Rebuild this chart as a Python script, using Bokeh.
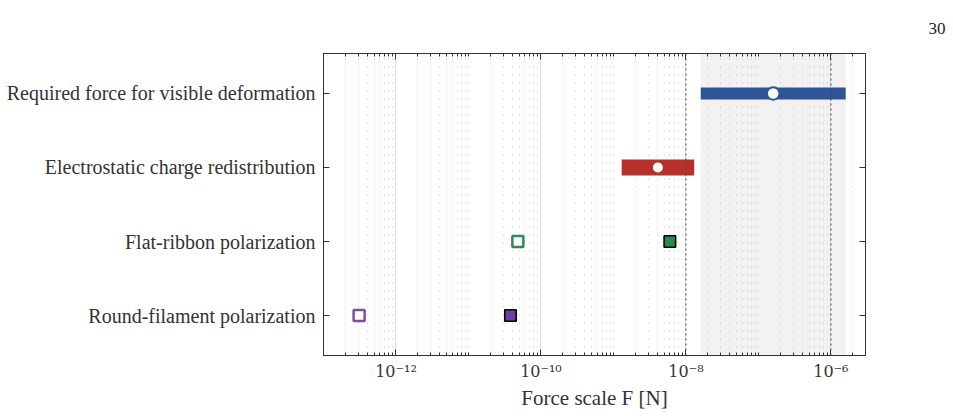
from bokeh.plotting import figure
from bokeh.models import (FixedTicker, LogAxis, LinearAxis, Span, BoxAnnotation,
                          Range1d, ColumnDataSource)
from bokeh.embed import file_html
from bokeh.resources import INLINE

# --- data -------------------------------------------------------------------
categories = [
    "Round-filament polarization",
    "Flat-ribbon polarization",
    "Electrostatic charge redistribution",
    "Required force for visible deformation",
]

# force ranges (N) for the two range-type estimates
range_rows = [2, 3]
range_lo = [1.3e-9, 1.6e-8]
range_hi = [1.3e-8, 1.6e-6]
range_mid = [4.1e-9, 1.6e-7]

# polarization estimates: open and filled markers
pol_rows = [0, 1]
pol_open = [3.1e-13, 4.8e-11]
pol_filled = [3.8e-11, 6.0e-9]

x_ticks = [1e-12, 1e-10, 1e-8, 1e-6]
x_tick_labels = ["10⁻¹²", "10⁻¹⁰", "10⁻⁸", "10⁻⁶"]
ref_lines = [1e-8, 1e-6]

x_label = "Force scale F [N]"
page_number = "30"

# --- styling ----------------------------------------------------------------
FONT = "Liberation Serif"
TXT = "#333333"
SPINE = "#333333"
BLUE = "#2e5597"
RED = "#b8302a"
PURPLE_OPEN = "#7a4fa8"
PURPLE_FILL = "#6b3fa0"
GREEN_OPEN = "#2e8b57"
GREEN_FILL = "#2a8a4c"

minor = []
for e in range(-13, -5):
    for m in range(1, 10):
        v = m * 10.0 ** e
        if v < 3e-6 and not any(abs(v - t) / t < 1e-6 for t in x_ticks):
            minor.append(v)

xticker = FixedTicker(ticks=x_ticks, minor_ticks=minor)
yticker = FixedTicker(ticks=[0, 1, 2, 3])

p = figure(width=953, height=416, x_axis_type="log",
           x_range=Range1d(1e-13, 3e-6), y_range=Range1d(-0.54, 3.54),
           output_backend="svg", toolbar_location=None,
           min_border_left=323, min_border_right=88,
           min_border_top=53, min_border_bottom=61)
p.background_fill_color = "white"
p.border_fill_color = "white"
p.outline_line_color = SPINE
p.outline_line_width = 1

# page number, set at the top right corner
p.title.text = page_number
p.title.align = "right"
p.title.offset = -80
p.title.text_font = FONT
p.title.text_font_size = "17px"
p.title.text_font_style = "normal"
p.title.text_color = "#222222"
p.title.standoff = 39

# grids: light solid at labelled decades, faint dots at minor ticks
p.ygrid.visible = False
p.xgrid.ticker = xticker
p.xgrid.grid_line_color = "#dcdcdc"
p.xgrid.grid_line_width = 1
p.xgrid.minor_grid_line_color = "#c4c4c4"
p.xgrid.minor_grid_line_dash = "1 7"
p.xgrid.minor_grid_line_width = 1


def style_axis(ax, labels=True):
    ax.axis_line_color = SPINE
    ax.major_tick_line_color = SPINE
    ax.minor_tick_line_color = SPINE
    ax.major_tick_in = 6
    ax.major_tick_out = 0
    ax.minor_tick_in = 3
    ax.minor_tick_out = 0
    ax.major_label_text_font = FONT
    if labels:
        ax.major_label_text_color = TXT
    else:
        ax.major_label_text_color = None
        ax.major_label_text_font_size = "1px"
        ax.major_label_standoff = 0


# bottom axis
xa = p.xaxis[0]
xa.ticker = xticker
xa.major_label_overrides = dict(zip(x_ticks, x_tick_labels))
style_axis(xa)
xa.major_label_text_font = "DejaVu Serif"
xa.major_label_text_font_size = "16px"
xa.major_label_standoff = 6
xa.axis_label = x_label
xa.axis_label_text_font = FONT
xa.axis_label_text_font_size = "21px"
xa.axis_label_text_font_style = "normal"
xa.axis_label_text_color = TXT
xa.axis_label_standoff = 2

# left axis
ya = p.yaxis[0]
ya.ticker = yticker
ya.major_label_overrides = {i: c for i, c in enumerate(categories)}
style_axis(ya)
ya.major_label_text_font_size = "20px"
ya.major_label_standoff = 8

# mirrored axes on top and right
top = LogAxis(ticker=xticker)
style_axis(top, labels=False)
p.add_layout(top, "above")
right = LinearAxis(ticker=yticker)
style_axis(right, labels=False)
p.add_layout(right, "right")

# shaded band spanning the required-force range
p.add_layout(BoxAnnotation(left=range_lo[1], right=range_hi[1],
                           fill_color="#7f7f7f", fill_alpha=0.1,
                           line_color=None, level="underlay"))

# dotted reference lines
for xv in ref_lines:
    p.add_layout(Span(location=xv, dimension="height", line_color="#444444",
                      line_dash="2 3", line_width=1))

# range bars with white centre markers
bars = ColumnDataSource(dict(y=range_rows, lo=range_lo, hi=range_hi, mid=range_mid,
                             color=[RED, BLUE], lw=[16, 12],
                             msize=[11.5, 12.5], mlw=[1.5, 2.0]))
p.segment(x0="lo", y0="y", x1="hi", y1="y", source=bars,
          line_color="color", line_width="lw", line_cap="butt")
p.scatter(x="mid", y="y", source=bars, marker="circle", size="msize",
          fill_color="white", line_color="color", line_width="mlw")

# polarization markers
p.scatter(x=pol_open, y=pol_rows, marker="square", size=11,
          fill_color="white", line_color=[PURPLE_OPEN, GREEN_OPEN], line_width=2.5)
p.scatter(x=pol_filled, y=pol_rows, marker="square", size=11.5,
          fill_color=[PURPLE_FILL, GREEN_FILL], line_color="black", line_width=1.6)

open("out.html", "w").write(file_html(p, INLINE))
